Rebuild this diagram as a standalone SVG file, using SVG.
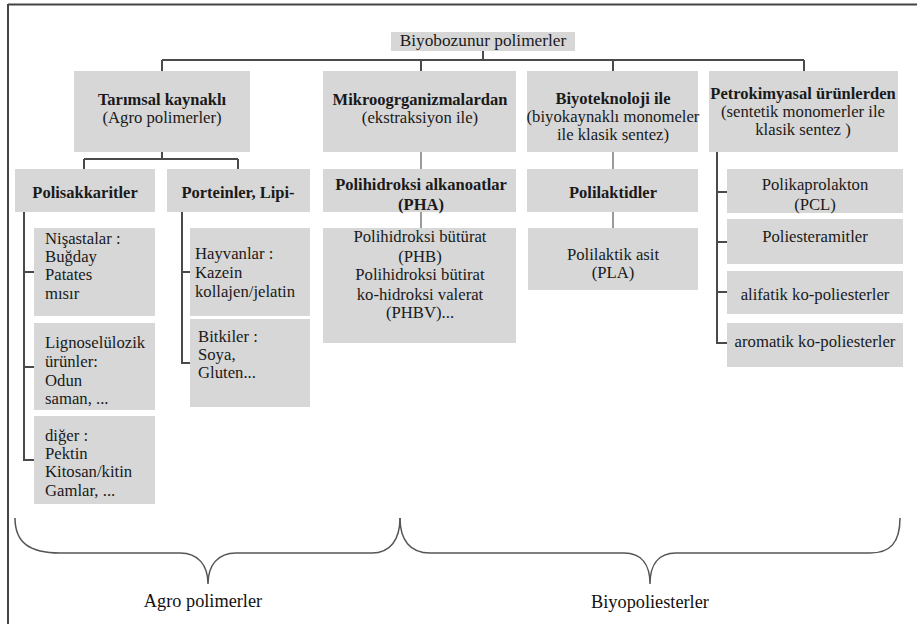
<svg xmlns="http://www.w3.org/2000/svg" width="917" height="624" viewBox="0 0 917 624">
<style>
.box{fill:#d7d7d7}
.t{font-family:'Liberation Serif',Tinos,'Times New Roman','DejaVu Serif',serif;font-size:16.7px;fill:#1a1a1a}
.b{font-weight:bold;font-size:16.5px}
.m{text-anchor:middle}
.ln{fill:none;stroke:#4a4a4a;stroke-width:2}
.lg{fill:none;stroke:#9a9a9a;stroke-width:2}
.br{fill:none;stroke:#555;stroke-width:1.5}
.lab{font-family:'Liberation Serif',Tinos,'Times New Roman','DejaVu Serif',serif;font-size:18.3px;fill:#111;text-anchor:middle}
</style>
<rect x="0" y="0" width="917" height="624" fill="#fff"/>
<path d="M8,4.5 H917 M8,4 V624" stroke="#444" stroke-width="2" fill="none"/>

<g id="connectors">
<path class="ln" d="M483,51 V60 M162,60 H804 M162,60 V71 M421,60 V71 M613,60 V71 M804,60 V71"/>
<path class="ln" d="M162,152 V159 M84,159 H238 M84,159 V169 M238,159 V169"/>
<path class="lg" d="M421,152 V169 M613,152 V169 M421,212 V228 M613,212 V228"/>
<path class="ln" d="M24,212 V460 H34 M24,272 H34 M24,367 H34"/>
<path class="ln" d="M182,212 V363 H190 M182,272 H190"/>
<path class="ln" d="M717,152 V343 H727 M717,192 H727 M717,242 H727 M717,292 H727"/>
</g>

<g id="root"><rect class="box" x="391" y="32" width="184" height="19"/><text class="t m" x="483" y="46" style="font-size:17.3px">Biyobozunur polimerler</text></g>

<g id="tarimsal"><rect class="box" x="74" y="71" width="176" height="81"/><text class="t m b" x="162" y="105">Tarımsal kaynaklı</text><text class="t m" x="162" y="123">(Agro polimerler)</text></g>
<g id="mikro"><rect class="box" x="323" y="71" width="193" height="81"/><text class="t m b" x="420" y="105">Mikroogrganizmalardan</text><text class="t m" x="420" y="123">(ekstraksiyon ile)</text></g>
<g id="biyotek"><rect class="box" x="527" y="71" width="171" height="81"/><text class="t m b" x="613" y="104">Biyoteknoloji ile</text><text class="t m" x="613" y="122">(biyokaynaklı monomeler</text><text class="t m" x="613" y="140">ile klasik sentez)</text></g>
<g id="petro"><rect class="box" x="709" y="71" width="189" height="81"/><text class="t m b" x="803" y="99">Petrokimyasal ürünlerden</text><text class="t m" x="803" y="117">(sentetik monomerler ile</text><text class="t m" x="803" y="135">klasik sentez )</text></g>

<g id="polisakkaritler"><rect class="box" x="15" y="169" width="140" height="43"/><text class="t m b" x="85" y="198">Polisakkaritler</text></g>
<g id="porteinler"><rect class="box" x="167" y="169" width="143" height="43"/><text class="t m b" x="238" y="198">Porteinler, Lipi-</text></g>
<g id="pha"><rect class="box" x="323" y="169" width="193" height="43"/><text class="t m b" x="421" y="190">Polihidroksi alkanoatlar</text><text class="t m b" x="421" y="210">(PHA)</text></g>
<g id="polilaktidler"><rect class="box" x="527" y="169" width="171" height="43"/><text class="t m b" x="613" y="198">Polilaktidler</text></g>

<g id="nisasta"><rect class="box" x="34" y="228" width="121" height="88"/><text class="t" x="45" y="244">Nişastalar :</text><text class="t" x="45" y="262">Buğday</text><text class="t" x="45" y="280">Patates</text><text class="t" x="45" y="299">mısır</text></g>
<g id="ligno"><rect class="box" x="34" y="323" width="121" height="87"/><text class="t" x="45" y="348">Lignoselülozik</text><text class="t" x="45" y="367">ürünler:</text><text class="t" x="45" y="386">Odun</text><text class="t" x="45" y="404">saman, ...</text></g>
<g id="diger"><rect class="box" x="34" y="416" width="121" height="88"/><text class="t" x="45" y="441">diğer :</text><text class="t" x="45" y="459">Pektin</text><text class="t" x="45" y="477">Kitosan/kitin</text><text class="t" x="45" y="496">Gamlar, ...</text></g>

<g id="hayvanlar"><rect class="box" x="190" y="228" width="120" height="88"/><text class="t" x="195" y="259">Hayvanlar :</text><text class="t" x="195" y="278">Kazein</text><text class="t" x="195" y="297">kollajen/jelatin</text></g>
<g id="bitkiler"><rect class="box" x="190" y="319" width="120" height="88"/><text class="t" x="198" y="342">Bitkiler :</text><text class="t" x="198" y="360">Soya,</text><text class="t" x="198" y="378">Gluten...</text></g>

<g id="phb"><rect class="box" x="323" y="228" width="193" height="115"/><text class="t m" x="420" y="242">Polihidroksi bütürat</text><text class="t m" x="420" y="262">(PHB)</text><text class="t m" x="420" y="280">Polihidroksi bütirat</text><text class="t m" x="420" y="300">ko-hidroksi valerat</text><text class="t m" x="420" y="318">(PHBV)...</text></g>
<g id="pla"><rect class="box" x="528" y="228" width="170" height="62"/><text class="t m" x="613" y="260">Polilaktik asit</text><text class="t m" x="613" y="278">(PLA)</text></g>

<g id="pcl"><rect class="box" x="727" y="169" width="176" height="44"/><text class="t m" x="815" y="190">Polikaprolakton</text><text class="t m" x="815" y="210">(PCL)</text></g>
<g id="poliesteramit"><rect class="box" x="727" y="219" width="176" height="45"/><text class="t m" x="815" y="242">Poliesteramitler</text></g>
<g id="alifatik"><rect class="box" x="727" y="271" width="176" height="43"/><text class="t m" x="815" y="300">alifatik ko-poliesterler</text></g>
<g id="aromatik"><rect class="box" x="727" y="323" width="176" height="44"/><text class="t m" x="815" y="347">aromatik ko-poliesterler</text></g>

<g id="braces">
<path class="br" d="M15,518 C15,543 30,553 60,553 L180,553 C198,553 208,565 208,584 C208,565 218,553 236,553 L372,553 C390,553 400,540 400,518"/>
<path class="br" d="M400,518 C400,540 410,553 430,553 L624,553 C642,553 650,565 650,584 C650,565 658,553 676,553 L870,553 C890,553 900,543 900,518"/>
<text class="lab" x="203" y="607">Agro polimerler</text>
<text class="lab" x="650" y="608">Biyopoliesterler</text>
</g>
</svg>
